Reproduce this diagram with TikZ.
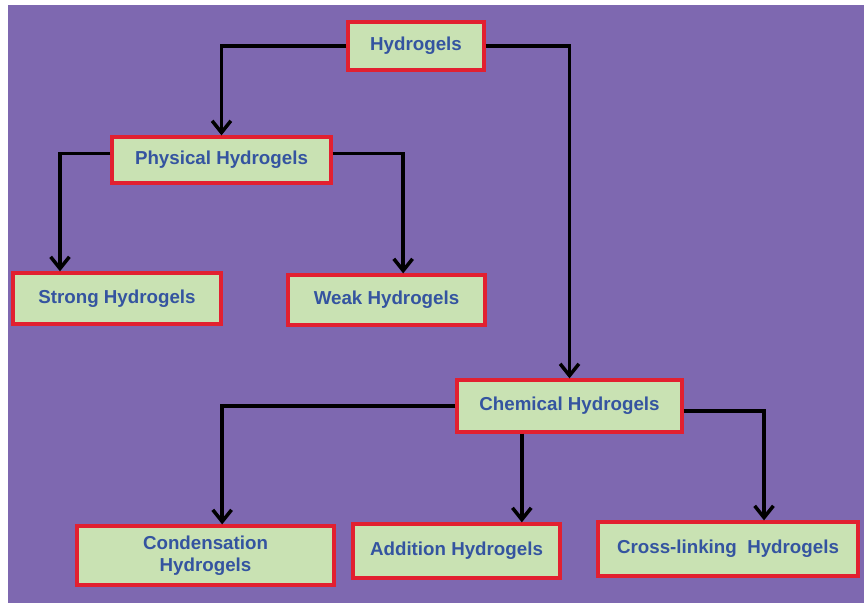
\documentclass[tikz,border=0pt]{standalone}
\usepackage{fontspec}
\setmainfont{Liberation Sans}
\usetikzlibrary{arrows.meta}

\definecolor{slidebg}{RGB}{126,104,176}
\definecolor{boxfill}{RGB}{201,226,179}
\definecolor{boxline}{RGB}{226,32,48}
\definecolor{boxtext}{RGB}{52,84,160}

\begin{document}
\begin{tikzpicture}[x = 0.03cm, y = -0.03cm,
	box/.style = {draw = boxline, line width = 2.8pt, fill = boxfill, text = boxtext,
		font = \bfseries\fontsize{16}{19}\selectfont, align = center, inner sep = 0pt},
	arr/.style = {line width = 3pt, -{Straight Barb[length = 10pt, width = 16pt]}}]
	\useasboundingbox (0,0) rectangle (864,603);
	\fill[slidebg] (8,5) rectangle (864,603);

	\node[box, minimum width = 136*0.03cm, minimum height = 48*0.03cm] (hyd) at (416,46) {Hydrogels};
	\node[box, minimum width = 219*0.03cm, minimum height = 46*0.03cm] (phys) at (221.5,160) {Physical Hydrogels};
	\node[box, minimum width = 208*0.03cm, minimum height = 51*0.03cm] (strong) at (117,298.5) {Strong Hydrogels};
	\node[box, minimum width = 197*0.03cm, minimum height = 50*0.03cm] (weak) at (386.5,300) {Weak Hydrogels};
	\node[box, minimum width = 225*0.03cm, minimum height = 52*0.03cm] (chem) at (569.5,406) {Chemical Hydrogels};
	\node[box, minimum width = 257*0.03cm, minimum height = 59*0.03cm] (cond) at (205.5,555.5) {Condensation\\Hydrogels};
	\node[box, minimum width = 207*0.03cm, minimum height = 54*0.03cm] (add) at (456.5,551) {Addition Hydrogels};
	\node[box, minimum width = 260*0.03cm, minimum height = 54*0.03cm] (cross) at (728,549) {Cross-linking~ Hydrogels};

	\draw[arr] (hyd.west) -| (phys.north);
	\draw[arr] (hyd.east) -| (chem.north);
	\draw[arr] ([yshift = 0.2cm]phys.west) -| ([xshift = -1.71cm]strong.north);
	\draw[arr] ([yshift = 0.2cm]phys.east) -| ([xshift = 0.5cm]weak.north);
	\draw[arr] (chem.west) -| ([xshift = 0.5cm]cond.north);
	\draw[arr] ([xshift = -1.43cm]chem.south) -- ([xshift = -1.43cm]chem.south |- add.north);
	\draw[arr] ([yshift = -0.15cm]chem.east) -| ([xshift = 1.08cm]cross.north);
\end{tikzpicture}
\end{document}
